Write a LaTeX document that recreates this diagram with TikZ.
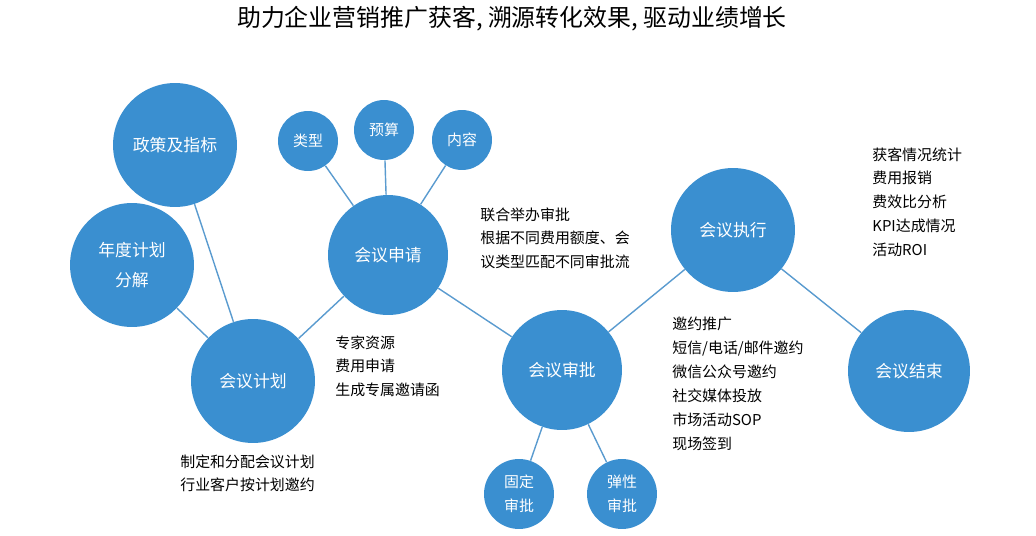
\documentclass[tikz,border=0pt]{standalone}
\usepackage{fontspec}
\setmainfont{Noto Sans CJK SC}
\definecolor{bubble}{HTML}{3A8FD0}
\definecolor{link}{HTML}{5A9BCF}
\begin{document}
\begin{tikzpicture}
		[x=0.02cm,y=-0.02cm,
		%Styles
		big node/.style={circle,fill=bubble,text=white,inner sep=0pt,font=\fontsize{9.6}{15}\selectfont,align=center,minimum size=#1*0.04cm},
		small node/.style={circle,fill=bubble,text=white,inner sep=0pt,font=\fontsize{8.5}{13.6}\selectfont,align=center,minimum size=#1*0.04cm},
		info text/.style={anchor=north west,align=left,inner sep=0pt,font=\fontsize{8.5}{13.6}\selectfont},
		link line/.style={draw=link,line width=0.8pt}
		]
		\useasboundingbox (0,0) rectangle (1036,535);
		
		%Title
		\node[font=\fontsize{13.6}{16}\selectfont] (title) at (512,19) {助力企业营销推广获客, 溯源转化效果, 驱动业绩增长};
		
		%The graphic
		\node[big node=62] (policy) at (175,145) {政策及指标};
		\node[big node=62] (annual) at (132,265) {年度计划\\[2pt]分解};
		\node[big node=62] (plan) at (253,381) {会议计划};
		\node[small node=30] (type) at (308,141) {类型};
		\node[small node=30] (budget) at (384,130) {预算};
		\node[small node=30] (content) at (462,140) {内容};
		\node[big node=60] (apply) at (388,255) {会议申请};
		\node[big node=60] (approve) at (562,370) {会议审批};
		\node[small node=35] (fixed) at (519,494) {固定\\审批};
		\node[small node=35] (flex) at (622,494) {弹性\\审批};
		\node[big node=62] (exec) at (733,230) {会议执行};
		\node[big node=61] (finish) at (909,371) {会议结束};
		
		\begin{scope}[on background layer/.style={}]
		\path[link line]
			(policy) edge (plan)
			(annual) edge (plan)
			(plan) edge (apply)
			(type) edge (apply)
			(budget) edge (apply)
			(content) edge (apply)
			(apply) edge (approve)
			(approve) edge (fixed)
				edge (flex)
				edge (exec)
			(exec) edge (finish);
		\end{scope}
		
		%Texts
		\node[info text] (approvetext) at (480,207) {联合举办审批\\根据不同费用额度、会\\议类型匹配不同审批流};
		\node[info text] (applytext) at (335,335) {专家资源\\费用申请\\生成专属邀请函};
		\node[info text] (plantext) at (180,454) {制定和分配会议计划\\行业客户按计划邀约};
		\node[info text] (exectext) at (672,317) {邀约推广\\短信/电话/邮件邀约\\微信公众号邀约\\社交媒体投放\\市场活动SOP\\现场签到};
		\node[info text] (finishtext) at (872,147) {获客情况统计\\费用报销\\费效比分析\\KPI达成情况\\活动ROI};
\end{tikzpicture}
\end{document}
